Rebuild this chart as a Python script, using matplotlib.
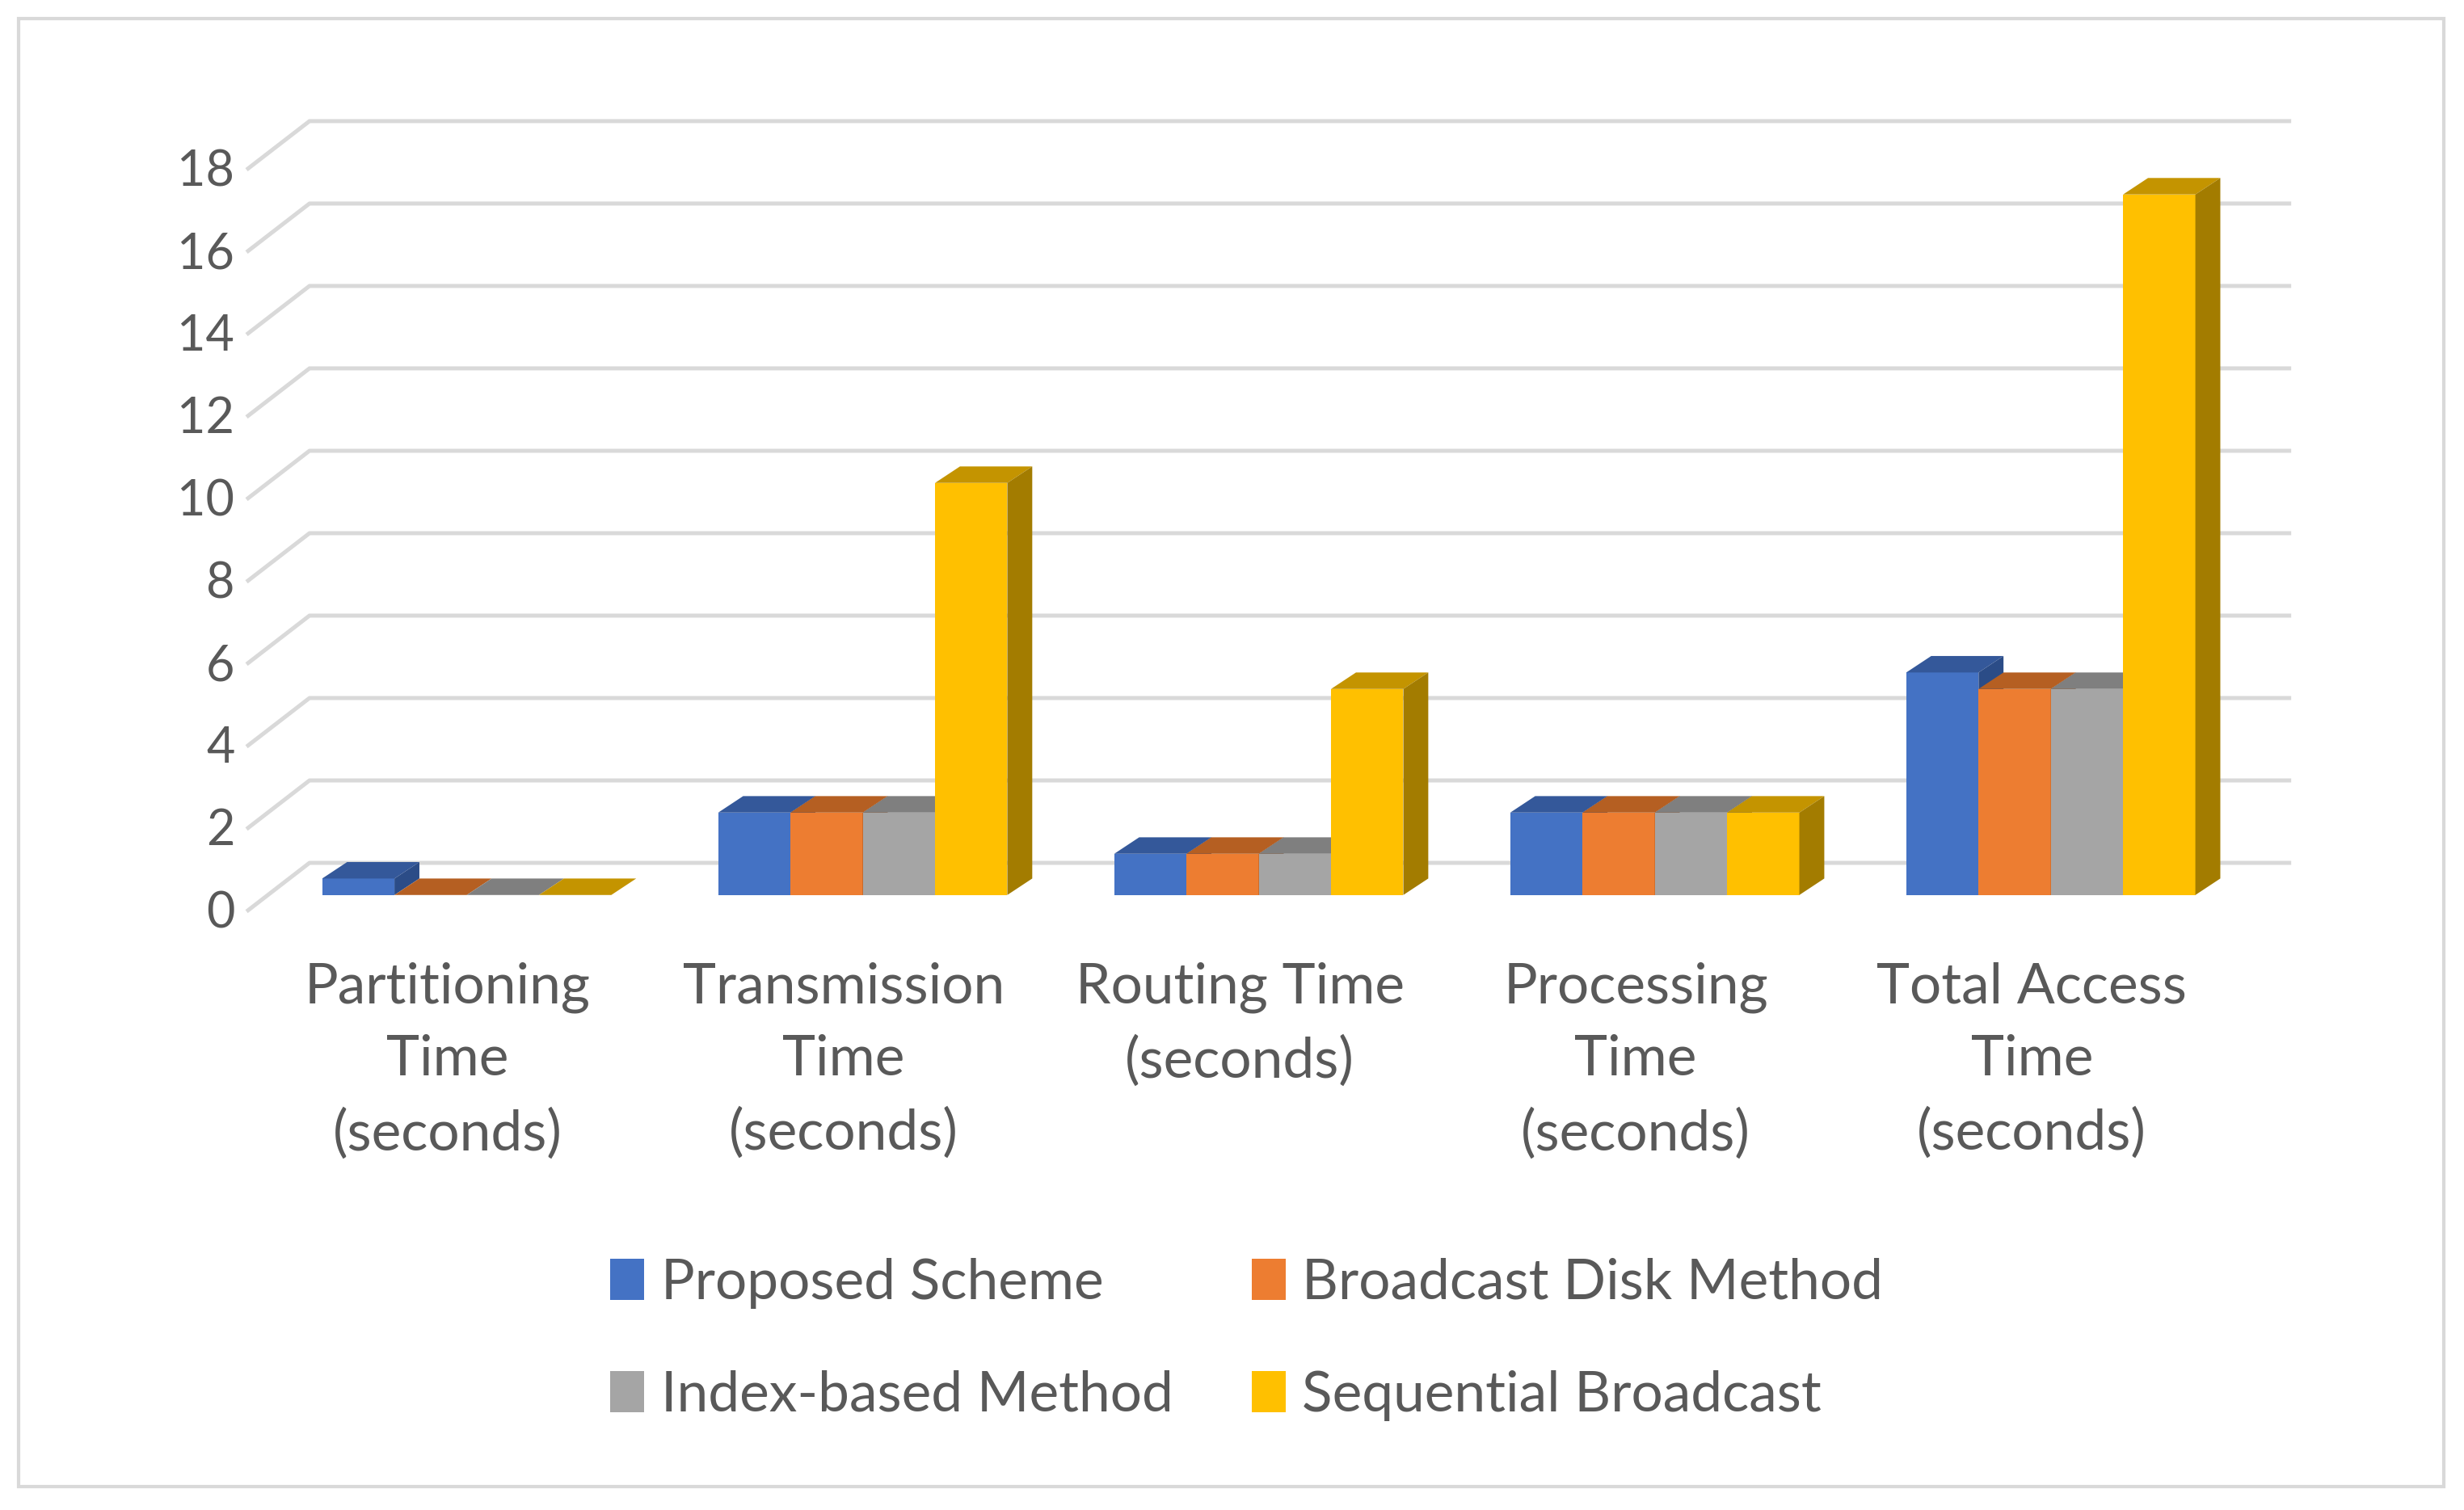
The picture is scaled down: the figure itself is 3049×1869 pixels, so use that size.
import matplotlib.pyplot as plt
from matplotlib.patches import Polygon, Rectangle, Patch

plt.rcParams['font.family'] = ['Lato', 'DejaVu Sans']

categories = ["Partitioning\nTime\n(seconds)", "Transmission\nTime\n(seconds)",
              "Routing Time\n(seconds)", "Processing\nTime\n(seconds)",
              "Total Access\nTime\n(seconds)"]
series = ["Proposed Scheme", "Broadcast Disk Method", "Index-based Method", "Sequential Broadcast"]
proposed = [0.4, 2, 1, 2, 5.4]
broadcast_disk = [0, 2, 1, 2, 5]
index_based = [0, 2, 1, 2, 5]
sequential = [0, 10, 5, 2, 17]
yticks = list(range(0, 19, 2))

values = [proposed, broadcast_disk, index_based, sequential]
front_cols = ['#4472C4', '#ED7D31', '#A5A5A5', '#FFC000']
top_cols = ['#34589A', '#B55F22', '#7F7F7F', '#C49400']
side_cols = ['#2B4C87', '#9E521C', '#6E6E6E', '#A37C00']
txt = '#595959'
grid = '#D9D9D9'

# oblique 3d offsets (category units, value units)
bw = 0.1825
ddx, ddy = 0.063, 0.40        # bar depth
back_dx, back_dy = 0.123, 0.78   # wall behind bars
floor_dx, floor_dy = -0.036, -0.40
wall_left, wall_right = -0.397, 4.607

fig = plt.figure(figsize=(15.245, 9.345), dpi=200)
ax = fig.add_axes([0.06378, 0.375, 0.8929, 0.5729])
ax.set_xlim(-0.7817, 4.7738)
ax.set_ylim(-1.183, 19.81)
ax.axis('off')

# back wall gridlines + floor diagonals
fl = wall_left - (back_dx - floor_dx)
for v in yticks:
    ax.plot([fl, wall_left, wall_right], [v + floor_dy, v + back_dy, v + back_dy],
            color=grid, lw=1.8, solid_capstyle='butt', zorder=1)
    ax.text(fl - 0.03, v + floor_dy - 0.05, str(v), ha='right', va='center',
            fontsize=22, color=txt)

for i in range(len(categories)):
    x0 = i - 2 * bw
    for k in range(4):
        h = values[k][i]
        xl = x0 + k * bw
        xr = xl + bw
        z = 3 + k
        ax.add_patch(Rectangle((xl, 0), bw, h, facecolor=front_cols[k], edgecolor='none', zorder=z))
        ax.add_patch(Polygon([(xl, h), (xr, h), (xr + ddx, h + ddy), (xl + ddx, h + ddy)],
                             closed=True, facecolor=top_cols[k], edgecolor='none', zorder=z))
        ax.add_patch(Polygon([(xr, 0), (xr + ddx, ddy), (xr + ddx, h + ddy), (xr, h)],
                             closed=True, facecolor=side_cols[k], edgecolor='none', zorder=z))
    ax.text(i - 0.048, -1.62, categories[i], ha='center', va='top', fontsize=25,
            color=txt, linespacing=1.52, clip_on=False)

handles = [Patch(facecolor=c, edgecolor='none') for c in front_cols]
order = [0, 2, 1, 3]
fig.legend([handles[j] for j in order], [series[j] for j in order], ncol=2,
           frameon=False, loc='center', bbox_to_anchor=(0.506, 0.113), fontsize=25,
           handlelength=0.6, handleheight=0.75, handletextpad=0.3,
           columnspacing=1.4, labelspacing=1.1, labelcolor=txt)

fig.add_artist(Rectangle((0.0077, 0.0156), 0.984, 0.9719, transform=fig.transFigure,
                         fill=False, edgecolor=grid, lw=1.5))

fig.savefig('out.png', dpi=200)
